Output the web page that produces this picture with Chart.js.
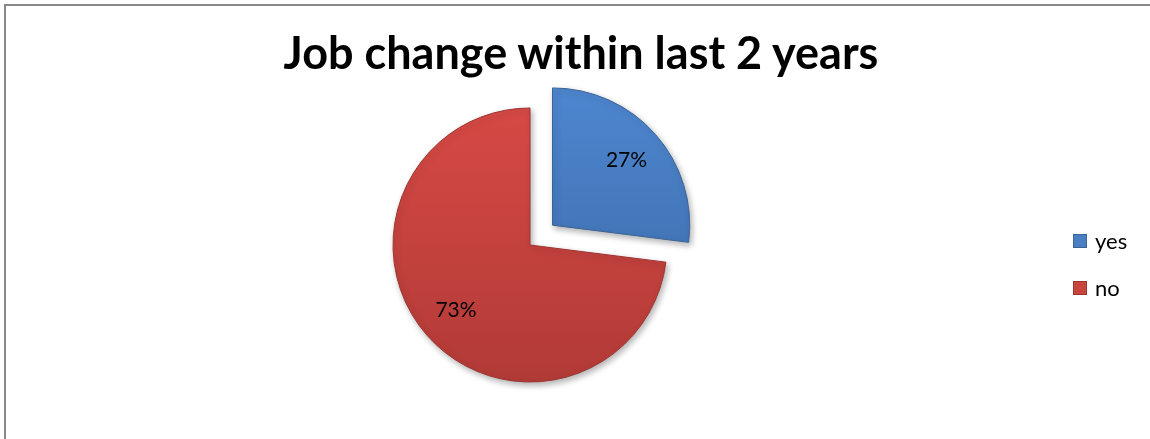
<!DOCTYPE html>
<html>
<head>
<meta charset="utf-8">
<script src="https://cdn.jsdelivr.net/npm/chart.js@4"></script>
<style>
  html, body { margin: 0; padding: 0; background: #fff; }
  #wrap { position: relative; width: 1150px; height: 439px; overflow: hidden; }
  #frame { position: absolute; left: 4px; top: 4px; width: 1160px; height: 450px; border: 2px solid #888; box-sizing: border-box; }
  #title { position: absolute; left: 0; width: 1162px; top: 25px; text-align: center;
           font-family: Lato, "Open Sans", sans-serif; font-weight: bold; font-size: 45px; color: #000; }
  #legend { position: absolute; left: 1073px; top: 227px; font-family: Lato, "Open Sans", sans-serif; font-size: 22px; }
  .item { display: flex; align-items: center; height: 27px; margin-bottom: 20px; }
  .box { width: 14px; height: 14px; margin-right: 8px; box-sizing: border-box; }
  canvas { position: absolute; left: 0; top: 0; }
</style>
</head>
<body>
<div id="wrap">
  <div id="frame"></div>
  <canvas id="pieChart" width="1150" height="439"></canvas>
  <div id="title"></div>
  <div id="legend"></div>
</div>
<script>
const chartTitle = "Job change within last 2 years";
const categories = ["yes", "no"];
const shares = [27, 73];
const sliceColors = ["#4a7fc4", "#c9433f"];
const sliceEdges = ["#3a6496", "#9c3532"];

document.getElementById("title").textContent = chartTitle;

// legenda
const legend = document.getElementById("legend");
categories.forEach((c, i) => {
    const row = document.createElement("div");
    row.className = "item";
    row.innerHTML = '<div class="box" style="background:' + sliceColors[i] + ';border:1px solid ' + sliceEdges[i] + '"></div><span>' + c + '</span>';
    legend.appendChild(row);
});

// procenty na wycinkach
const pctLabels = {
    id: "pctLabels",
    afterDatasetsDraw(chart) {
        const ctx = chart.ctx;
        const meta = chart.getDatasetMeta(0);
        ctx.save();
        ctx.font = "21px Lato, 'Open Sans', sans-serif";
        ctx.fillStyle = "#000";
        ctx.textAlign = "center";
        ctx.textBaseline = "middle";
        meta.data.forEach((arc, i) => {
            const p = arc.getProps(["x", "y", "startAngle", "endAngle", "outerRadius"], true);
            const mid = (p.startAngle + p.endAngle) / 2;
            const shift = (arc.options.offset || 0) / 4;
            const d = shift + p.outerRadius * 0.72;
            ctx.fillText(shares[i] + "%", p.x + Math.cos(mid) * d, p.y + Math.sin(mid) * d);
        });
        ctx.restore();
    }
};

// cień pod wycinkami
const shadow = {
    id: "shadow",
    beforeDatasetsDraw(chart) {
        const ctx = chart.ctx;
        ctx.save();
        ctx.shadowColor = "rgba(0,0,0,0.3)";
        ctx.shadowBlur = 6;
        ctx.shadowOffsetX = 2;
        ctx.shadowOffsetY = 3;
    },
    afterDatasetsDraw(chart) {
        chart.ctx.restore();
    }
};

function sliceFill(c) {
    const i = c.dataIndex;
    const g = c.chart.ctx.createLinearGradient(0, 90, 0, 385);
    if (i === 0) {
        g.addColorStop(0, "#4f88d2");
        g.addColorStop(1, "#3a69a6");
    } else {
        g.addColorStop(0, "#d94a46");
        g.addColorStop(1, "#b13a36");
    }
    return g;
}

new Chart(document.getElementById("pieChart"), {
    type: "pie",
    data: {
        labels: categories,
        datasets: [{
            data: shares,
            backgroundColor: sliceFill,
            borderColor: sliceEdges,
            borderWidth: 1,
            offset: [120, 0],
            radius: 137
        }]
    },
    options: {
        responsive: false,
        animation: false,
        events: [],
        layout: { padding: { left: 0, right: 90, top: 51, bottom: 0 } },
        plugins: {
            legend: { display: false },
            tooltip: { enabled: false },
            title: { display: false }
        }
    },
    plugins: [shadow, pctLabels]
});
</script>
</body>
</html>
